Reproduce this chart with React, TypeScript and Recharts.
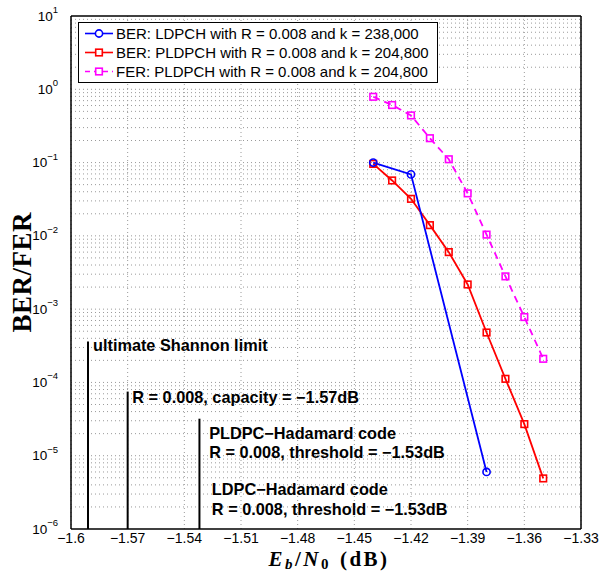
import React from 'react';
import {
  ComposedChart,
  Line,
  XAxis,
  YAxis,
  CartesianGrid,
  ReferenceLine,
} from 'recharts';

// Eb/N0 values (dB)
const ldpchX = [-1.44, -1.42, -1.38];
const ldpchBer = [0.1, 0.069, 6.0e-6];

const pldpchX = [-1.44, -1.43, -1.42, -1.41, -1.4, -1.39, -1.38, -1.37, -1.36, -1.35];
const pldpchBer = [0.096, 0.057, 0.032, 0.014, 0.006, 0.00217, 4.8e-4, 1.12e-4, 2.7e-5, 4.9e-6];
const pldpchFer = [0.79, 0.61, 0.44, 0.215, 0.111, 0.038, 0.0104, 0.0028, 7.8e-4, 2.1e-4];

const xTicks = [-1.6, -1.57, -1.54, -1.51, -1.48, -1.45, -1.42, -1.39, -1.36, -1.33];
const yTicks = [1e-6, 1e-5, 1e-4, 1e-3, 1e-2, 1e-1, 1, 10];

// limit markers: x position, top of the line
const limitX = [-1.591, -1.57, -1.532];
const limitTop = [3.62e-4, 7.5e-5, 3.2e-5];

const minorGrid: number[] = [];
for (let e = -6; e <= 0; e++) {
  for (let k = 2; k <= 9; k++) minorGrid.push(k * Math.pow(10, e));
}

const toRows = (xs: number[], ys: number[]) => xs.map((x, i) => ({ x, y: ys[i] }));
const ldpchData = toRows(ldpchX, ldpchBer);
const pldpchBerData = toRows(pldpchX, pldpchBer);
const pldpchFerData = toRows(pldpchX, pldpchFer);

const SANS = '"Liberation Sans", Arial, Helvetica, sans-serif';
const SERIF = '"Liberation Serif", "Times New Roman", serif';
const GRID = '#9a9a9a';

const fmtX = (v: number) => {
  const s = String(Math.abs(v));
  return (v < 0 ? '\u2212' : '') + s;
};

const YTick = (props: any) => {
  const { y, payload } = props;
  const exp = Math.round(Math.log10(payload.value));
  return (
    <text x={58} y={y + 4.5} textAnchor="end" fontFamily={SANS} fontSize={13.5} fill="#000">
      10
      <tspan dy={-7.5} fontSize={9.5}>
        {exp < 0 ? '\u2212' + Math.abs(exp) : exp}
      </tspan>
    </text>
  );
};

const XTick = (props: any) => {
  const { x, y, payload } = props;
  return (
    <text x={x} y={y + 6} textAnchor="middle" fontFamily={SANS} fontSize={14} fill="#000">
      {fmtX(payload.value)}
    </text>
  );
};

const circleDot = (props: any) => {
  const { cx, cy, index } = props;
  return <circle key={`c-${index}`} cx={cx} cy={cy} r={3.6} fill="none" stroke="#0000ff" strokeWidth={1.6} />;
};

const squareDot = (color: string) => (props: any) => {
  const { cx, cy, index } = props;
  return (
    <rect
      key={`s-${color}-${index}`}
      x={cx - 3.3}
      y={cy - 3.3}
      width={6.6}
      height={6.6}
      fill="none"
      stroke={color}
      strokeWidth={1.6}
    />
  );
};

const textLabel = (lines: { text: string; dx: number; dy: number }[]) => (props: any) => {
  const vb = props.viewBox || {};
  return (
    <g>
      {lines.map((l, i) => (
        <text
          key={i}
          x={vb.x + l.dx}
          y={vb.y + l.dy}
          fontFamily={SANS}
          fontWeight="bold"
          fontSize={16.3}
          fill="#000"
        >
          {l.text}
        </text>
      ))}
    </g>
  );
};

const limitLabels = [
  [{ text: 'ultimate Shannon limit', dx: 5, dy: 9.5 }],
  [{ text: 'R = 0.008, capacity = \u22121.57dB', dx: 4.6, dy: 11.5 }],
  [
    { text: 'PLDPC\u2212Hadamard code', dx: 9.7, dy: 20 },
    { text: 'R = 0.008, threshold = \u22121.53dB', dx: 9.7, dy: 39 },
    { text: 'LDPC\u2212Hadamard code', dx: 12.4, dy: 76 },
    { text: 'R = 0.008, threshold = \u22121.53dB', dx: 12.4, dy: 96 },
  ],
];

const legendRows = [
  { label: 'BER: LDPCH with R = 0.008 and k = 238,000', color: '#0000ff', marker: 'circle', dash: undefined },
  { label: 'BER: PLDPCH with R = 0.008 and k = 204,800', color: '#ff0000', marker: 'square', dash: undefined },
  { label: 'FER: PLDPCH with R = 0.008 and k = 204,800', color: '#ff00ff', marker: 'square', dash: '5 4' },
];

function LegendBox() {
  return (
    <div
      style={{
        position: 'absolute',
        left: 78,
        top: 22,
        width: 358,
        height: 58,
        border: '1px solid #000',
        background: '#fff',
        fontFamily: SANS,
        fontSize: 15,
        lineHeight: '19px',
        paddingTop: 1,
        boxSizing: 'content-box',
      }}
    >
      {legendRows.map((r) => (
        <div key={r.label} style={{ display: 'flex', alignItems: 'center', height: 19, whiteSpace: 'nowrap' }}>
          <svg width={37} height={19} style={{ flex: 'none' }}>
            <line x1={6} y1={9.5} x2={34} y2={9.5} stroke={r.color} strokeWidth={1.6} strokeDasharray={r.dash} />
            {r.marker === 'circle' ? (
              <circle cx={20} cy={9.5} r={3.6} fill="#fff" stroke={r.color} strokeWidth={1.6} />
            ) : (
              <rect x={16.7} y={6.2} width={6.6} height={6.6} fill="#fff" stroke={r.color} strokeWidth={1.6} />
            )}
          </svg>
          <span>{r.label}</span>
        </div>
      ))}
    </div>
  );
}

export default function App() {
  return (
    <div style={{ position: 'absolute', left: 0, top: 0, width: 602, height: 571, background: '#fff' }}>
      <ComposedChart width={602} height={571} margin={{ top: 16, right: 21, left: 0, bottom: 0 }}>
        <CartesianGrid horizontal={false} stroke={GRID} strokeDasharray="1 3" />
        {minorGrid.map((v) => (
          <ReferenceLine key={`mg-${v}`} y={v} stroke={GRID} strokeDasharray="1 3" strokeWidth={1} />
        ))}
        {yTicks.slice(1, -1).map((v) => (
          <ReferenceLine key={`g-${v}`} y={v} stroke={GRID} strokeDasharray="1 3" strokeWidth={1} />
        ))}
        <XAxis
          dataKey="x"
          type="number"
          domain={[-1.6, -1.33]}
          ticks={xTicks}
          allowDataOverflow
          height={42}
          stroke="#000"
          strokeWidth={1.5}
          tickLine={false}
          tick={<XTick />}
          label={{
            content: (p: any) => {
              const vb = p.viewBox || {};
              return (
                <text
                  x={vb.x + vb.width / 2 + 3}
                  y={565.5}
                  textAnchor="middle"
                  fontFamily={SERIF}
                  fontWeight="bold"
                  fontSize={21}
                  letterSpacing={2.5}
                  fill="#000"
                >
                  <tspan fontStyle="italic">E</tspan>
                  <tspan fontStyle="italic" fontSize={15} dy={3}>b</tspan>
                  <tspan dy={-3}>/</tspan>
                  <tspan fontStyle="italic">N</tspan>
                  <tspan fontSize={15} dy={3}>0</tspan>
                  <tspan dy={-3} dx={9}>(dB)</tspan>
                </text>
              );
            },
          }}
        />
        <YAxis
          type="number"
          scale="log"
          domain={[1e-6, 10]}
          ticks={yTicks}
          allowDataOverflow
          width={71}
          stroke="#000"
          strokeWidth={1.5}
          tickLine={false}
          tick={<YTick />}
          label={{
            content: (p: any) => {
              const vb = p.viewBox || {};
              const cy = vb.y + vb.height / 2;
              return (
                <text
                  x={31}
                  y={cy}
                  transform={`rotate(-90 31 ${cy})`}
                  textAnchor="middle"
                  fontFamily={SERIF}
                  fontWeight="bold"
                  fontSize={27}
                  fill="#000"
                  textLength={120}
                  lengthAdjust="spacing"
                >
                  BER/FER
                </text>
              );
            },
          }}
        />
        <ReferenceLine y={10} stroke="#000" strokeWidth={1.5} />
        <ReferenceLine x={-1.33} stroke="#000" strokeWidth={1.5} />
        {limitX.map((x, i) => (
          <ReferenceLine
            key={`lim-${i}`}
            segment={[
              { x, y: 1e-6 },
              { x, y: limitTop[i] },
            ]}
            stroke="#000"
            strokeWidth={2}
            label={{ content: textLabel(limitLabels[i]) }}
          />
        ))}
        <Line
          data={pldpchFerData}
          dataKey="y"
          stroke="#ff00ff"
          strokeWidth={1.8}
          strokeDasharray="7 5"
          dot={squareDot('#ff00ff')}
          isAnimationActive={false}
        />
        <Line
          data={pldpchBerData}
          dataKey="y"
          stroke="#ff0000"
          strokeWidth={1.8}
          dot={squareDot('#ff0000')}
          isAnimationActive={false}
        />
        <Line
          data={ldpchData}
          dataKey="y"
          stroke="#0000ff"
          strokeWidth={1.8}
          dot={circleDot}
          isAnimationActive={false}
        />
      </ComposedChart>
      <LegendBox />
    </div>
  );
}
